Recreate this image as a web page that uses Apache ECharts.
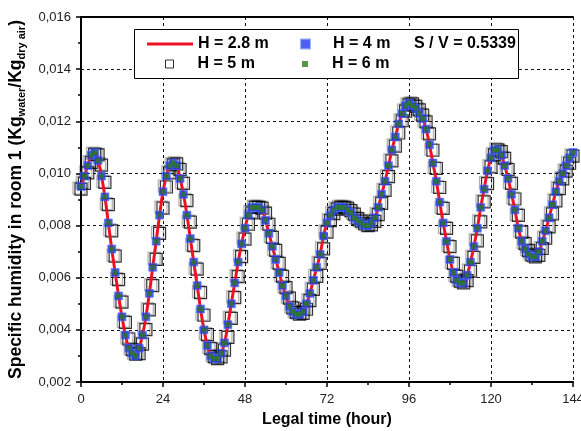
<!DOCTYPE html>
<html>
<head>
<meta charset="utf-8">
<script src="https://cdn.jsdelivr.net/npm/echarts@6/dist/echarts.min.js"></script>
<style>
  html, body { margin: 0; padding: 0; background: #fff; }
  #chart { width: 581px; height: 431px; }
</style>
</head>
<body>
<div id="chart"></div>
<script>
// humidity, one value per hour (0..144)
// H = 2.8 m, 4 m and 6 m lie on top of each other
var humidityMain = [
  0.0095, 0.0099, 0.0103, 0.0107, 0.0108, 0.0105, 0.0099, 0.0091, 0.0081, 0.0071,
  0.0062, 0.0053, 0.0045, 0.0038, 0.0033, 0.0031, 0.0030, 0.0033, 0.0038, 0.0045,
  0.0054, 0.0064, 0.0074, 0.0084, 0.0093, 0.0099, 0.0103, 0.0104, 0.0103, 0.0098,
  0.0092, 0.0084, 0.0075, 0.0066, 0.0057, 0.0048, 0.0040, 0.0034, 0.0030, 0.0029,
  0.0029, 0.0031, 0.0035, 0.0042, 0.0050, 0.0058, 0.0066, 0.0073, 0.0079, 0.0084,
  0.0087, 0.0087, 0.0087, 0.0086, 0.0082, 0.0077, 0.0072, 0.0067, 0.0062, 0.0057,
  0.0053, 0.0049, 0.0047, 0.0046, 0.0046, 0.0047, 0.0050, 0.0054, 0.0059, 0.0064,
  0.0069, 0.0076, 0.0081, 0.0084, 0.0086, 0.0087, 0.0087, 0.0087, 0.0086, 0.0085,
  0.0083, 0.0082, 0.0081, 0.0080, 0.0080, 0.0081, 0.0083, 0.0087, 0.0092, 0.0097,
  0.0103, 0.0109, 0.0114, 0.0119, 0.0123, 0.0126, 0.0127, 0.0126, 0.0125, 0.0123,
  0.0121, 0.0117, 0.0111, 0.0104, 0.0097, 0.0089, 0.0081, 0.0074, 0.0067, 0.0062,
  0.0059, 0.0058, 0.0058, 0.0061, 0.0066, 0.0072, 0.0079, 0.0087, 0.0094, 0.0101,
  0.0106, 0.0109, 0.0109, 0.0107, 0.0103, 0.0098, 0.0092, 0.0086, 0.0079, 0.0074,
  0.0071, 0.0069, 0.0068, 0.0068, 0.0070, 0.0074, 0.0078, 0.0083, 0.0088, 0.0093,
  0.0097, 0.0100, 0.0103, 0.0106, 0.0108
];
// H = 5 m (open squares) lag a little behind the others
var humidityH5 = [
  0.00940, 0.00962, 0.01002, 0.01042, 0.01073, 0.01071, 0.01032, 0.00966, 0.00880, 0.00780,
  0.00683, 0.00593, 0.00506, 0.00429, 0.00365, 0.00324, 0.00307, 0.00309, 0.00345, 0.00401,
  0.00477, 0.00570, 0.00670, 0.00770, 0.00867, 0.00948, 0.01002, 0.01033, 0.01037, 0.01015,
  0.00962, 0.00896, 0.00813, 0.00723, 0.00633, 0.00543, 0.00456, 0.00382, 0.00328, 0.00297,
  0.00290, 0.00296, 0.00322, 0.00371, 0.00444, 0.00524, 0.00604, 0.00681, 0.00748, 0.00805,
  0.00849, 0.00870, 0.00870, 0.00867, 0.00848, 0.00805, 0.00755, 0.00705, 0.00655, 0.00605,
  0.00562, 0.00522, 0.00484, 0.00467, 0.00460, 0.00463, 0.00479, 0.00512, 0.00555, 0.00605,
  0.00655, 0.00711, 0.00775, 0.00819, 0.00846, 0.00863, 0.00870, 0.00870, 0.00867, 0.00857,
  0.00844, 0.00827, 0.00817, 0.00807, 0.00800, 0.00803, 0.00816, 0.00842, 0.00885, 0.00935,
  0.00988, 0.01048, 0.01105, 0.01155, 0.01202, 0.01239, 0.01263, 0.01267, 0.01257, 0.01244,
  0.01224, 0.01198, 0.01152, 0.01089, 0.01019, 0.00946, 0.00866, 0.00789, 0.00719, 0.00655,
  0.00605, 0.00587, 0.00580, 0.00589, 0.00625, 0.00678, 0.00741, 0.00814, 0.00891, 0.00961,
  0.01025, 0.01071, 0.01090, 0.01084, 0.01058, 0.01015, 0.00962, 0.00902, 0.00839, 0.00775,
  0.00731, 0.00704, 0.00687, 0.00680, 0.00686, 0.00712, 0.00752, 0.00795, 0.00845, 0.00895,
  0.00942, 0.00979, 0.01009, 0.01039, 0.01066
];
var xTicks = [0, 24, 48, 72, 96, 120, 144];
var yTicks = [0.002, 0.004, 0.006, 0.008, 0.010, 0.012, 0.014, 0.016];
var seriesNames = ['H = 2.8 m', 'H = 4 m', 'H = 5 m', 'H = 6 m'];
var ratioText = 'S / V = 0.5339';

var FONT = 'Liberation Sans, Arial, sans-serif';

function pairs(vals) {
  var out = [];
  for (var i = 0; i < vals.length; i++) {
    out.push([i, vals[i]]);
  }
  return out;
}

var chart = echarts.init(document.getElementById('chart'), null, {renderer: 'canvas'});

var legendText = {fontFamily: FONT, fontSize: 16, fontWeight: 'bold', color: '#000', lineHeight: 18};

var option = {
  animation: false,
  backgroundColor: '#fff',
  grid: {left: 81, right: 8, top: 17, bottom: 49, containLabel: false, outerBoundsMode: 'none'},
  xAxis: [{
    type: 'value',
    min: xTicks[0],
    max: xTicks[xTicks.length - 1],
    interval: xTicks[1] - xTicks[0],
    name: 'Legal time (hour)',
    nameLocation: 'middle',
    nameGap: 30,
    nameTextStyle: {fontFamily: FONT, fontSize: 16, fontWeight: 'bold', color: '#000'},
    axisLine: {lineStyle: {color: '#000', width: 2}},
    axisTick: {show: true, inside: false, length: 5, lineStyle: {color: '#000', width: 1.5}},
    minorTick: {show: true, splitNumber: 2, length: 3, lineStyle: {color: '#000', width: 1.5}},
    splitLine: {show: true, lineStyle: {color: '#111', width: 1, type: [3, 3]}},
    axisLabel: {fontFamily: FONT, fontSize: 13, color: '#222', margin: 11}
  }, {
    type: 'value',
    position: 'top',
    min: xTicks[0],
    max: xTicks[xTicks.length - 1],
    axisLine: {lineStyle: {color: '#000', width: 2}},
    axisTick: {show: false},
    axisLabel: {show: false},
    splitLine: {show: false}
  }],
  yAxis: [{
    type: 'value',
    min: yTicks[0],
    max: yTicks[yTicks.length - 1],
    interval: yTicks[1] - yTicks[0],
    name: '{b|Specific humidity in room 1 (Kg}{s|water}{b|/Kg}{s|dry air}{b|)}',
    nameLocation: 'middle',
    nameRotate: 90,
    nameGap: 45,
    nameTextStyle: {
      rich: {
        b: {fontFamily: FONT, fontSize: 17.5, fontWeight: 'bold', color: '#000', lineHeight: 22},
        s: {fontFamily: FONT, fontSize: 11, fontWeight: 'bold', color: '#000', lineHeight: 22, verticalAlign: 'bottom', padding: [8, 0, 0, 0]}
      }
    },
    axisLine: {lineStyle: {color: '#000', width: 2}},
    axisTick: {show: true, inside: false, length: 5, lineStyle: {color: '#000', width: 1.5}},
    minorTick: {show: true, splitNumber: 2, length: 3, lineStyle: {color: '#000', width: 1.5}},
    splitLine: {show: true, lineStyle: {color: '#111', width: 1, type: [3, 3]}},
    axisLabel: {
      fontFamily: FONT, fontSize: 13, color: '#222', margin: 10,
      formatter: function (v) { return v.toFixed(3).replace('.', ','); }
    }
  }, {
    type: 'value',
    position: 'right',
    min: yTicks[0],
    max: yTicks[yTicks.length - 1],
    axisLine: {show: true, lineStyle: {color: '#000', width: 2}},
    axisTick: {show: false},
    axisLabel: {show: false},
    splitLine: {show: false}
  }],
  legend: [{
    data: [{name: seriesNames[0], icon: 'rect'}],
    left: 147, top: 35, padding: 0,
    itemWidth: 46, itemHeight: 3, symbolKeepAspect: false,
    textStyle: legendText, selectedMode: false, z: 6
  }, {
    data: [{name: seriesNames[1], icon: 'rect'}],
    left: 300, top: 35, padding: 0,
    itemWidth: 9, itemHeight: 9, symbolKeepAspect: false,
    textStyle: Object.assign({padding: [0, 0, 0, 18]}, legendText), selectedMode: false, z: 6
  }, {
    data: [{name: seriesNames[2], icon: 'rect',
      itemStyle: {color: '#fff', borderColor: '#000', borderWidth: 1, shadowColor: 'rgba(0,0,0,0)', shadowBlur: 0, shadowOffsetX: 0, shadowOffsetY: 0}}],
    left: 165, top: 55, padding: 0,
    itemWidth: 8, itemHeight: 8, symbolKeepAspect: false,
    textStyle: Object.assign({padding: [0, 0, 0, 19]}, legendText), selectedMode: false, z: 6
  }, {
    data: [{name: seriesNames[3], icon: 'rect'}],
    left: 302, top: 55, padding: 0,
    itemWidth: 6, itemHeight: 6, symbolKeepAspect: false,
    textStyle: Object.assign({padding: [0, 0, 0, 19]}, legendText), selectedMode: false, z: 6
  }],
  graphic: [{
    type: 'rect',
    left: 134, top: 29, z: 3,
    shape: {width: 384, height: 49},
    style: {fill: '#fff', stroke: '#000', lineWidth: 1}
  }, {
    type: 'text',
    left: 414, top: 36, z: 6,
    style: {text: ratioText, fontFamily: FONT, fontSize: 16, fontWeight: 'bold', fill: '#000'}
  }],
  series: [{
    name: seriesNames[2],
    type: 'scatter',
    z: 2,
    symbol: 'rect',
    symbolSize: 12,
    data: pairs(humidityH5),
    itemStyle: {
      color: 'rgba(0,0,0,0)', borderColor: '#000', borderWidth: 1.2,
      shadowColor: 'rgba(0,0,0,0.45)', shadowBlur: 1, shadowOffsetX: -2, shadowOffsetY: -1
    },
    emphasis: {disabled: true}
  }, {
    name: seriesNames[0],
    type: 'line',
    z: 3,
    showSymbol: false,
    smooth: true,
    data: pairs(humidityMain),
    lineStyle: {color: '#ee1122', width: 3},
    itemStyle: {color: '#ee1122'},
    emphasis: {disabled: true}
  }, {
    name: seriesNames[1],
    type: 'scatter',
    z: 4,
    symbol: 'rect',
    symbolSize: 8,
    data: pairs(humidityMain),
    itemStyle: {color: '#2233ee', borderColor: 'rgba(80,120,255,0.7)', borderWidth: 1},
    emphasis: {disabled: true}
  }, {
    name: seriesNames[3],
    type: 'scatter',
    z: 5,
    symbol: 'rect',
    symbolSize: 5,
    data: pairs(humidityMain),
    itemStyle: {color: '#2f7a1f'},
    emphasis: {disabled: true}
  }]
};

chart.setOption(option);
</script>
</body>
</html>
